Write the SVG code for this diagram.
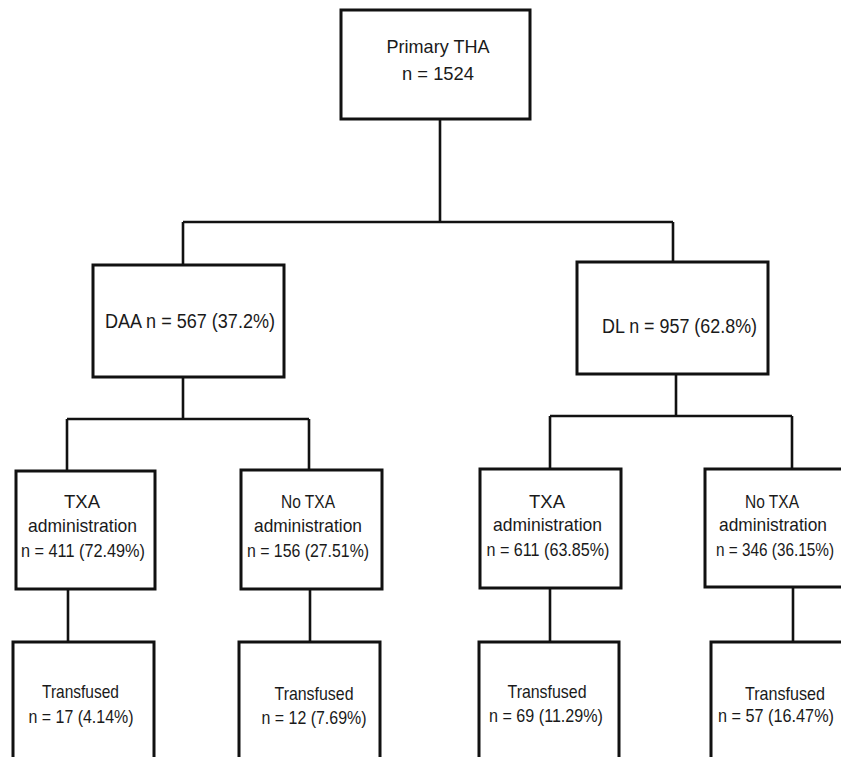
<svg xmlns="http://www.w3.org/2000/svg" width="841" height="757" viewBox="0 0 841 757">
<style>
.box{fill:#fff;stroke:#111;stroke-width:3}
.con{fill:none;stroke:#111;stroke-width:2.6}
text{font-family:"Liberation Sans",Arial,sans-serif;font-size:18.5px;fill:#1a1a1a;text-anchor:middle}
.big{font-size:19.5px}
</style>
<rect width="841" height="757" fill="#fff"/>
<g id="connectors">
<path class="con" d="M440 119V222M183 222H673M183 222V265M673 222V262"/>
<path class="con" d="M183 377V419M67 419H309M67 419V471M309 419V470"/>
<path class="con" d="M676 374V416M550 416H792M550 416V469M792 416V469"/>
<path class="con" d="M68 589V642M310 589V642M550 588V642M793 587V642"/>
</g>
<g id="primary">
<rect class="box" x="341" y="10" width="189" height="109"/>
<text x="438" y="53" textLength="103" lengthAdjust="spacingAndGlyphs">Primary THA</text>
<text x="438" y="80" textLength="72" lengthAdjust="spacingAndGlyphs">n = 1524</text>
</g>
<g id="daa">
<rect class="box" x="93" y="265" width="191" height="112"/>
<text class="big" x="190" y="328" textLength="170" lengthAdjust="spacingAndGlyphs">DAA n = 567 (37.2%)</text>
</g>
<g id="dl">
<rect class="box" x="577" y="262" width="191" height="112"/>
<text class="big" x="679.5" y="333" textLength="155" lengthAdjust="spacingAndGlyphs">DL n = 957 (62.8%)</text>
</g>
<g id="daa-txa">
<rect class="box" x="16" y="471" width="139" height="118"/>
<text x="82" y="508" textLength="36" lengthAdjust="spacingAndGlyphs">TXA</text>
<text x="82.5" y="532" textLength="109" lengthAdjust="spacingAndGlyphs">administration</text>
<text x="83" y="557" textLength="124" lengthAdjust="spacingAndGlyphs">n = 411 (72.49%)</text>
</g>
<g id="daa-notxa">
<rect class="box" x="241" y="470" width="141" height="119"/>
<text x="308" y="508" textLength="54" lengthAdjust="spacingAndGlyphs">No TXA</text>
<text x="308" y="532" textLength="108" lengthAdjust="spacingAndGlyphs">administration</text>
<text x="308" y="557" textLength="122" lengthAdjust="spacingAndGlyphs">n = 156 (27.51%)</text>
</g>
<g id="dl-txa">
<rect class="box" x="480" y="469" width="141" height="119"/>
<text x="547" y="508" textLength="36" lengthAdjust="spacingAndGlyphs">TXA</text>
<text x="547.5" y="531" textLength="109" lengthAdjust="spacingAndGlyphs">administration</text>
<text x="548" y="556" textLength="123" lengthAdjust="spacingAndGlyphs">n = 611 (63.85%)</text>
</g>
<g id="dl-notxa">
<rect class="box" x="705" y="469" width="160" height="118"/>
<text x="772" y="508" textLength="54" lengthAdjust="spacingAndGlyphs">No TXA</text>
<text x="773" y="531" textLength="108" lengthAdjust="spacingAndGlyphs">administration</text>
<text x="775" y="556" textLength="118" lengthAdjust="spacingAndGlyphs">n = 346 (36.15%)</text>
</g>
<g id="daa-txa-transfused">
<rect class="box" x="13" y="642" width="141" height="140"/>
<text x="80.5" y="698" textLength="77" lengthAdjust="spacingAndGlyphs">Transfused</text>
<text x="81" y="723" textLength="105" lengthAdjust="spacingAndGlyphs">n = 17 (4.14%)</text>
</g>
<g id="daa-notxa-transfused">
<rect class="box" x="239" y="642" width="141" height="140"/>
<text x="314" y="700" textLength="79" lengthAdjust="spacingAndGlyphs">Transfused</text>
<text x="314" y="724" textLength="105" lengthAdjust="spacingAndGlyphs">n = 12 (7.69%)</text>
</g>
<g id="dl-txa-transfused">
<rect class="box" x="479" y="642" width="140" height="140"/>
<text x="547" y="698" textLength="79" lengthAdjust="spacingAndGlyphs">Transfused</text>
<text x="546" y="722" textLength="114" lengthAdjust="spacingAndGlyphs">n = 69 (11.29%)</text>
</g>
<g id="dl-notxa-transfused">
<rect class="box" x="711" y="642" width="160" height="140"/>
<text x="785" y="700" textLength="80" lengthAdjust="spacingAndGlyphs">Transfused</text>
<text x="776" y="722" textLength="116" lengthAdjust="spacingAndGlyphs">n = 57 (16.47%)</text>
</g>
</svg>
